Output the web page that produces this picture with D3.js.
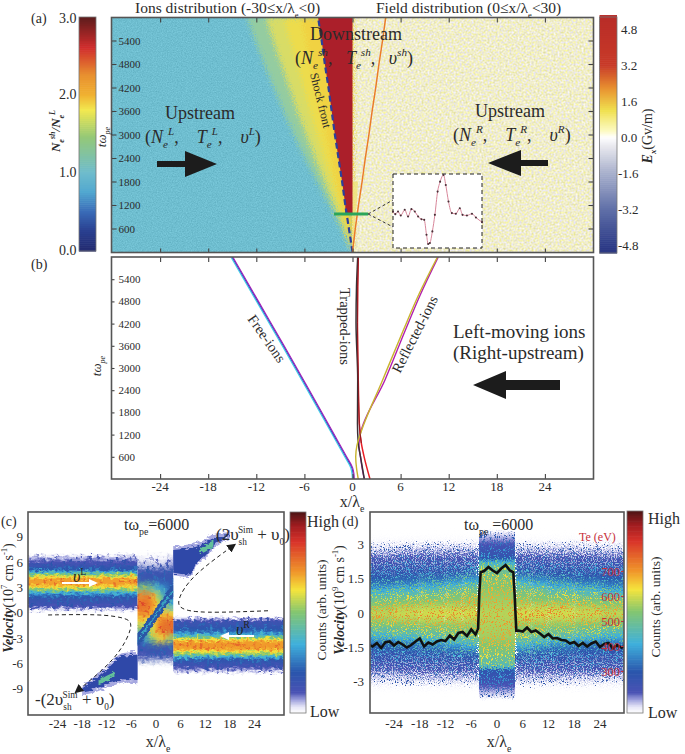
<!DOCTYPE html>
<html>
<head>
<meta charset="utf-8">
<script src="https://cdn.jsdelivr.net/npm/d3@7"></script>
<style>
  html, body { margin: 0; padding: 0; background: #fff; }
  svg { display: block; }
  text { font-family: "Liberation Serif", serif; fill: #2b2b2b; white-space: pre; }
  .tick text { font-family: "Liberation Serif", serif; fill: #2b2b2b; }
</style>
</head>
<body>
<svg width="685" height="754"></svg>
<script>
// Panel (a): time axis and the edges of each region
const times = [0, 600, 1200, 1800, 2400, 3000, 3600, 4200, 4800, 5400, 6000];
const shockFront = [0, -0.45, -0.9, -1.3, -1.75, -2.2, -2.6, -3, -3.45, -3.85, -4.3];
const fanCore = [0, -0.6, -1.3, -2, -2.6, -3.3, -3.9, -4.6, -5.2, -5.8, -6.5];
const fanInner = [0, -0.8, -1.7, -2.6, -3.5, -4.4, -5.3, -6.1, -6.9, -7.8, -8.6];
const fanMid = [0, -1.1, -2.3, -3.5, -4.7, -5.8, -6.9, -7.9, -8.9, -9.9, -10.8];
const fanOuter = [0, -1.4, -2.9, -4.4, -5.9, -7.3, -8.6, -9.8, -11, -12.1, -13.2];
const redTimes = [950, 1200, 1800, 2400, 3000, 3600, 4200, 4800, 5400, 6000];
const orangeLineX = [0, 0.35, 0.75, 1.2, 1.6, 2.05, 2.45, 2.9, 3.3, 3.75, 4.15];
const wedgeTimes = [0, 600, 1200, 1800];
const wedgeX = [0, 0.25, 0.5, 0.7];
const greenBarX = [-2.3, 1.95];
const greenBarT = 970;

// inset of panel (a): Ex along the green bar
const insetX = [-2.3, -2.19, -2.06, -1.93, -1.74, -1.58, -1.42, -1.26, -1.1, -0.94, -0.81, -0.7, -0.62, -0.54, -0.42, -0.3, -0.17, -0.05, 0.11, 0.22, 0.35, 0.51, 0.7, 0.89, 1.02, 1.23, 1.47, 1.66, 1.95];
const insetE = [0.25, 0.05, 0.25, -0.05, 0.38, -0.13, 0.43, 0.25, -0.13, -0.33, -0.38, -1.5, -2.2, -2.13, -1.25, 0, 1.75, 2.5, 3, 2.25, 1, 0.13, 0.08, 0.5, 0, -0.05, 0.08, -0.2, -0.55];

// Panel (b): ion trajectories
const bTimes = [0, 150, 300, 600, 1200, 2400, 3600, 4800, 6000];
const freeIons = [0.1, 0.05, -0.1, -0.85, -2.4, -5.5, -8.65, -11.85, -15.05];
const trappedTimes = [0, 600, 970, 1500, 2676, 4230, 5200, 6000];
const trappedBlack = [1.47, 1.0, 0.72, 0.62, 0.65, 0.44, 0.5, 0.65];
const trappedRed = [2.18, 1.45, 1.1, 0.85, 0.72, 0.62, 0.65, 0.72];
const reflTimes = [0, 300, 600, 900, 1190, 2676, 4000, 5000, 6000];
const reflYellow = [0.72, 0.5, 0.4, 0.55, 0.94, 3.76, 6.3, 8.3, 10.6];
const reflMagenta = [1.47, 1.2, 1.0, 0.8, 0.95, 4.05, 6.55, 8.5, 10.7];

// Panel (c): counts against velocity, one profile per x region
const cLeftV = [7.2, 6.8, 6.3, 5.8, 5.2, 4.9, 4.6, 4.3, 4, 3.5, 3.1, 2.8, 2.5, 2.2, 1.8, 1.2, 0.8, 0.4, 0];
const cLeftC = [0, 0.03, 0.08, 0.13, 0.2, 0.33, 0.5, 0.6, 0.69, 0.69, 0.61, 0.5, 0.36, 0.26, 0.17, 0.14, 0.1, 0.03, 0];
const cRightV = [-0.3, -0.7, -1.1, -1.6, -2.2, -2.6, -2.9, -3.1, -3.4, -3.9, -4.3, -4.6, -4.9, -5.2, -5.6, -6.2, -6.8, -7.3];
const cRightC = [0, 0.06, 0.14, 0.17, 0.24, 0.36, 0.5, 0.6, 0.69, 0.7, 0.67, 0.58, 0.48, 0.3, 0.18, 0.13, 0.05, 0];
const cMidX = [-4.5, -3, -2, -1, 0, 1, 2, 3, 4.2];
const cMidV = [6, 5, 4, 3, 2, 1, 0, -1, -2, -3, -4, -5, -6];
const cMidC = [
  [0.03, 0.03, 0.03, 0.03, 0.03, 0.03, 0.03, 0.05],
  [0.14, 0.14, 0.14, 0.14, 0.14, 0.14, 0.14, 0.15],
  [0.16, 0.17, 0.17, 0.17, 0.17, 0.17, 0.17, 0.17],
  [0.46, 0.46, 0.44, 0.4, 0.34, 0.3, 0.26, 0.22],
  [0.72, 0.74, 0.72, 0.64, 0.54, 0.42, 0.3, 0.24],
  [0.76, 0.76, 0.74, 0.7, 0.62, 0.5, 0.4, 0.34],
  [0.72, 0.72, 0.7, 0.64, 0.6, 0.64, 0.64, 0.62],
  [0.62, 0.6, 0.6, 0.62, 0.7, 0.74, 0.76, 0.76],
  [0.44, 0.44, 0.52, 0.6, 0.72, 0.76, 0.76, 0.76],
  [0.22, 0.3, 0.44, 0.52, 0.6, 0.62, 0.58, 0.52],
  [0.14, 0.15, 0.16, 0.16, 0.17, 0.17, 0.16, 0.16],
  [0.12, 0.13, 0.14, 0.14, 0.14, 0.14, 0.14, 0.12],
  [0.03, 0.03, 0.03, 0.03, 0.03, 0.03, 0.03, 0.03]
];
const diagX = [-4.5, -2, 0, 2, 4.2];
const diagHi = [-2.4, -0.8, 0.6, 2, 3.6];
const diagLo = [-4, -2.3, -0.9, 0.5, 2];
const diagCoreHi = [-3.1, -1.4, 0, 1.4, 2.9];
const diagCoreLo = [-3.4, -1.7, -0.3, 1.1, 2.6];
const wingRX = [4.2, 8, 10, 12, 14, 18];
const wingRHi = [7.5, 7.7, 7.9, 8.4, 8.9, 9.3];
const wingRLo = [4.8, 4.6, 6, 6.8, 8, 9.1];
const wingLX = [-4.5, -8, -10, -12, -14, -18];
const wingLHi = [-4.9, -5, -5.6, -6.6, -7.4, -8.9];
const wingLLo = [-7.9, -7.8, -8.1, -8.4, -8.8, -9.3];
const streakRX = [10.5, 12, 14];
const streakRHi = [7.4, 8, 8.5];
const streakRLo = [7.1, 7.3, 8.1];
const streakLX = [-10, -12, -14];
const streakLHi = [-7, -7.4, -8];
const streakLLo = [-7.3, -8, -8.4];
const dashTopX = [27.3, 10.7, 5.9, 5, 8.3, 18.8];
const dashTopV = [0.3, 0, 0.5, 1.4, 4.3, 8];
const dashBotX = [-26.3, -13.6, -8, -5.6, -6.8, -10.4, -19.2];
const dashBotV = [-0.2, -0.1, -0.5, -1, -2.9, -5.7, -9.2];

// Panel (d): electron counts, upper half of each (symmetric) profile
const dV = [3.6, 3.2, 2.9, 2.5, 2.1, 1.7, 1.3, 1, 0.6, 0.3, 0];
const dColEdges = [30, 24, 18, 12, 8, 4.2];
const dCols = [
  [0, 0.01, 0.03, 0.09, 0.14, 0.18, 0.25, 0.34, 0.45, 0.52, 0.56],
  [0, 0.01, 0.035, 0.1, 0.15, 0.19, 0.27, 0.37, 0.47, 0.54, 0.57],
  [0, 0.01, 0.04, 0.1, 0.15, 0.2, 0.3, 0.4, 0.49, 0.55, 0.58],
  [0, 0.01, 0.04, 0.1, 0.15, 0.22, 0.33, 0.44, 0.5, 0.55, 0.58],
  [0, 0.01, 0.04, 0.1, 0.16, 0.24, 0.37, 0.46, 0.51, 0.55, 0.58]
];
const dMidV = [3.7, 3.3, 2.9, 2.45, 2.3, 2.05, 1.6, 1, 0, -1, -1.7, -2.3, -2.5, -3, -3.4, -3.8];
const dMidC = [0, 0.06, 0.13, 0.17, 0.3, 0.42, 0.47, 0.51, 0.55, 0.53, 0.47, 0.4, 0.18, 0.13, 0.06, 0];
const dHoleV = [3.9, 2.9, 2.4, 1.9, 1.5, -1.5, -1.9, -2.4, -2.9, -3.9];
const dHoleA = [1, 0.95, 0.6, 0.3, 0, 0, 0.3, 0.6, 0.95, 1];
const teX = [-30, -29, -28, -27, -26, -25, -24, -23, -22, -21, -20, -19, -18, -17, -16, -15, -14, -13, -12, -11, -10, -9, -8, -7, -6, -5, -4.4, -4.1, -3.8, -3, -2, -1, 0, 1, 2, 3, 3.8, 4.1, 4.5, 5, 6, 7, 8, 9, 10, 11, 12, 13, 14, 15, 16, 17, 18, 19, 20, 21, 22, 23, 24, 25, 26, 27, 28, 29, 30];
const teVal = [405, 398, 412, 392, 415, 418, 402, 416, 406, 394, 404, 418, 430, 398, 414, 406, 418, 424, 420, 442, 426, 452, 456, 440, 466, 446, 470, 620, 695, 700, 716, 702, 692, 710, 724, 702, 695, 610, 460, 462, 458, 474, 456, 462, 450, 436, 448, 430, 432, 424, 422, 410, 416, 400, 412, 398, 410, 418, 396, 408, 412, 390, 404, 394, 400];

// colour stops
const barN = d3.scaleLinear()
  .domain([0, 0.25, 0.5, 0.75, 1, 1.45, 1.8, 2, 2.25, 2.6, 3])
  .range(['#222a70', '#2a4090', '#3a6cb8', '#52a8d0', '#6fbccc', '#94c878', '#f2e850', '#f0b030', '#e89030', '#d02c2c', '#5a1c1c']);
const barE = d3.scaleLinear()
  .domain([-5.4, -4.8, -3.2, -1.6, -0.4, 0, 0.3, 1.2, 2.2, 3.2, 5.4])
  .range(['#26307a', '#2e3c88', '#6070a8', '#a8b0cc', '#e8e8ee', '#ffffff', '#fcfac0', '#f0e050', '#e89030', '#c83a28', '#b82c28']);
const barCounts = d3.scaleLinear()
  .domain([0, 0.03, 0.06, 0.1, 0.2, 0.34, 0.5, 0.61, 0.7, 0.85, 0.93, 1])
  .range(['#ffffff', '#e4e4f6', '#a6a8e0', '#4a52b4', '#2a55ac', '#3fb0dc', '#84c670', '#f5e43c', '#f0962a', '#d8332a', '#a01c20', '#4a1414']);

const svg = d3.select('svg');
const defs = svg.append('defs');
const serif = '"Liberation Serif", serif';

// ---- filters ----
function grainFilter(id, freq, seed, matrix) {
  const f = defs.append('filter').attr('id', id).attr('x', 0).attr('y', 0).attr('width', 1).attr('height', 1)
    .attr('color-interpolation-filters', 'sRGB');
  f.append('feTurbulence').attr('type', 'fractalNoise').attr('baseFrequency', freq).attr('numOctaves', 2).attr('seed', seed);
  f.append('feColorMatrix').attr('type', 'matrix').attr('values', matrix);
}
grainFilter('paleGrain', 0.5, 4, '0.2 0 0 0 0.84  0.2 0 0 0 0.83  0 0.7 0 0 0.45  0 0 0 0 1');
grainFilter('tealGrain', 0.8, 7, '0.15 0 0 0 0.36  0.15 0 0 0 0.67  0.15 0 0 0 0.74  0 0 0 0 1');

function scatterFilter(id, freq, scale, seed, blur) {
  const f = defs.append('filter').attr('id', id).attr('x', '-5%').attr('y', '-5%').attr('width', '110%').attr('height', '110%')
    .attr('color-interpolation-filters', 'sRGB');
  f.append('feTurbulence').attr('type', 'fractalNoise').attr('baseFrequency', freq).attr('numOctaves', 1).attr('seed', seed).attr('result', 'n');
  f.append('feGaussianBlur').attr('in', 'SourceGraphic').attr('stdDeviation', blur).attr('result', 'b');
  f.append('feDisplacementMap').attr('in', 'b').attr('in2', 'n').attr('scale', scale)
    .attr('xChannelSelector', 'R').attr('yChannelSelector', 'G');
}
scatterFilter('fanScatter', 0.9, 14, 5, 2);
scatterFilter('dScatter', 0.95, 15, 11, 0);

function raggedFilter(id, freq, scale, seed, blur) {
  // only moves pixels up and down, the region edges stay straight
  const f = defs.append('filter').attr('id', id).attr('x', '-5%').attr('y', '-5%').attr('width', '110%').attr('height', '110%')
    .attr('color-interpolation-filters', 'sRGB');
  f.append('feTurbulence').attr('type', 'fractalNoise').attr('baseFrequency', freq).attr('numOctaves', 3).attr('seed', seed).attr('result', 'n0');
  f.append('feColorMatrix').attr('in', 'n0').attr('type', 'matrix')
    .attr('values', '1 0 0 0 0  0 1 0 0 0  0 0 0 0 0.5  0 0 0 0 1').attr('result', 'n');
  f.append('feDisplacementMap').attr('in', 'SourceGraphic').attr('in2', 'n').attr('scale', scale)
    .attr('xChannelSelector', 'B').attr('yChannelSelector', 'R').attr('result', 'd');
  f.append('feGaussianBlur').attr('in', 'd').attr('stdDeviation', blur);
}
raggedFilter('cRagged', '0.2 0.5', 8, 3, 0.55);
raggedFilter('dRagged', '0.9 0.95', 9, 8, 0);

function sparkleFilter(id, freq, k, c, seed) {
  const f = defs.append('filter').attr('id', id).attr('x', 0).attr('y', 0).attr('width', 1).attr('height', 1)
    .attr('color-interpolation-filters', 'sRGB');
  f.append('feTurbulence').attr('type', 'fractalNoise').attr('baseFrequency', freq).attr('numOctaves', 1).attr('seed', seed).attr('result', 'n');
  f.append('feColorMatrix').attr('in', 'n').attr('type', 'matrix')
    .attr('values', `0 0 0 0 0  0 0 0 0 0  0 0 0 0 0  ${k} 0 0 0 ${c}`).attr('result', 'm');
  f.append('feComposite').attr('in', 'SourceGraphic').attr('in2', 'm').attr('operator', 'in');
}
sparkleFilter('dSparkle', 0.85, 14, -7.8, 21);
sparkleFilter('dHoles', 0.9, 12, -6.2, 33);
sparkleFilter('cSparkle', 0.3, 9, -5, 6);

defs.append('filter').attr('id', 'cMidBlur').attr('x', '-10%').attr('y', '-10%').attr('width', '120%').attr('height', '120%')
  .attr('color-interpolation-filters', 'sRGB')
  .append('feGaussianBlur').attr('stdDeviation', '2 3');

function clipFor(id, x0, y0, x1, y1) {
  defs.append('clipPath').attr('id', id).append('rect')
    .attr('x', x0).attr('y', y0).attr('width', x1 - x0).attr('height', y1 - y0);
}

// ---- helpers ----
// styled runs: [text, 'i b sub sup' tokens, optional dx]
function rich(parent, x, y, parts, o = {}) {
  const size = o.size || 14;
  const t = parent.append('text').attr('x', x).attr('y', y).attr('font-size', size)
    .attr('text-anchor', o.anchor || 'start').style('font-family', serif);
  if (o.fill) t.style('fill', o.fill);
  if (o.transform) t.attr('transform', o.transform);
  let shift = 0;
  parts.forEach(p => {
    const s = typeof p === 'string' ? p : p[0];
    const st = typeof p === 'string' ? [] : p[1].split(' ');
    const ts = t.append('tspan').text(s);
    let target = 0;
    if (st.includes('sub')) { target = size * 0.3; ts.attr('font-size', size * (o.script || 0.62)); }
    if (st.includes('sup')) { target = -size * 0.42; ts.attr('font-size', size * (o.script || 0.62)); }
    if (st.includes('i')) ts.style('font-style', 'italic');
    if (st.includes('b')) ts.style('font-weight', 'bold');
    ts.attr('dy', target - shift);
    if (typeof p !== 'string' && p[2]) ts.attr('dx', p[2]);
    shift = target;
  });
  return t;
}

function frame(g, x0, y0, x1, y1) {
  g.append('rect').attr('x', x0).attr('y', y0).attr('width', x1 - x0).attr('height', y1 - y0)
    .attr('fill', 'none').attr('stroke', '#555').attr('stroke-width', 1.6);
}

function styleAxis(sel, size) {
  sel.select('.domain').remove();
  sel.selectAll('.tick line').attr('stroke', '#444').attr('stroke-width', 1.1);
  sel.selectAll('.tick text').attr('font-size', size).style('font-family', serif);
}

function colorBar(g, x0, x1, y, lo, hi, color) {
  const steps = d3.range(lo, hi, (hi - lo) / 120);
  g.selectAll(null).data(steps).join('rect')
    .attr('x', x0).attr('width', x1 - x0)
    .attr('y', d => y(d + (hi - lo) / 120))
    .attr('height', d => Math.abs(y(d) - y(d + (hi - lo) / 120)) + 0.6)
    .attr('fill', color);
  g.append('rect').attr('x', x0).attr('y', y(hi)).attr('width', x1 - x0).attr('height', y(lo) - y(hi))
    .attr('fill', 'none').attr('stroke', '#777').attr('stroke-width', 0.8);
}

// vertical gradient strip from a velocity profile
let stripId = 0;
function strip(g, x0, x1, vels, vals, xs, ys, boost = 0, fade = 0.04) {
  const id = 'strip' + (stripId++);
  const grad = defs.append('linearGradient').attr('id', id).attr('gradientUnits', 'userSpaceOnUse')
    .attr('x1', 0).attr('x2', 0).attr('y1', ys(vels[0])).attr('y2', ys(vels[vels.length - 1]));
  const total = ys(vels[vels.length - 1]) - ys(vels[0]);
  vels.forEach((v, i) => {
    const sub = i < vels.length - 1 ? 4 : 1;
    d3.range(sub).forEach(k => {
      const w = k / sub;
      const val = i < vels.length - 1 ? vals[i] + (vals[i + 1] - vals[i]) * w : vals[i];
      const pos = i < vels.length - 1 ? ys(v) + (ys(vels[i + 1]) - ys(v)) * w : ys(v);
      grad.append('stop').attr('offset', (pos - ys(vels[0])) / total)
        .attr('stop-color', barCounts(Math.min(1, val > 0.02 ? val + boost : val)))
        .attr('stop-opacity', Math.min(1, val / fade));
    });
  });
  g.append('rect').attr('x', xs(x0)).attr('width', xs(x1) - xs(x0))
    .attr('y', ys(vels[0])).attr('height', total).attr('fill', `url(#${id})`);
}

function arrow(g, tipX, baseX, endX, cy, halfHead, halfShaft, fill) {
  g.append('path').attr('fill', fill)
    .attr('d', `M${tipX},${cy} L${baseX},${cy - halfHead} L${baseX},${cy - halfShaft} L${endX},${cy - halfShaft} L${endX},${cy + halfShaft} L${baseX},${cy + halfShaft} L${baseX},${cy + halfHead} Z`);
}

// ==== Panel (a) ====
const ax = { left: 111.5, right: 593.5, top: 17.5, bottom: 252.5 };
const xA = d3.scaleLinear().domain([-30, 30]).range([112, 593]);
const tA = d3.scaleLinear().domain([0, 6000]).range([252, 17]);
clipFor('clipA', ax.left, ax.top, ax.right, ax.bottom);
const gA = svg.append('g').attr('clip-path', 'url(#clipA)');

gA.append('rect').attr('x', ax.left).attr('y', ax.top).attr('width', xA(0) - ax.left + 1).attr('height', ax.bottom - ax.top)
  .attr('filter', 'url(#tealGrain)');
gA.append('rect').attr('x', xA(0)).attr('y', ax.top).attr('width', ax.right - xA(0)).attr('height', ax.bottom - ax.top)
  .attr('filter', 'url(#paleGrain)');

const fanG = gA.append('g').attr('filter', 'url(#fanScatter)');
const fanArea = (outer, color, inner) => {
  const a = d3.area().x0((d, i) => xA(outer[i])).x1((d, i) => xA(inner ? inner[i] : 0)).y(d => tA(d));
  fanG.append('path').attr('d', a(times)).attr('fill', color);
};
fanArea(fanOuter, '#94cca0');
fanArea(fanMid, '#d8dc66');
fanArea(fanInner, '#eddc4c');
fanArea(fanCore, '#f0d242');

// wedge between x=0 and the orange line
gA.append('path').attr('fill', '#efe27a').attr('opacity', 0.8)
  .attr('d', d3.area().x0(xA(0)).x1((d, i) => xA(wedgeX[i])).y(d => tA(d))(wedgeTimes));

// downstream (red) region
const redEdge = t => shockFront[times.findIndex(v => v >= t)];
gA.append('path').attr('fill', '#ab1f2a')
  .attr('d', d3.area().x0(d => xA(redEdge(d))).x1(xA(0)).y(d => tA(d))(redTimes));

// shock-front and orange tracks
gA.append('path').attr('fill', 'none').attr('stroke', '#2c3f9c').attr('stroke-width', 2.2).attr('stroke-dasharray', '6 3.5')
  .attr('d', d3.line().x((d, i) => xA(shockFront[i])).y(d => tA(d))(times));
gA.append('path').attr('fill', 'none').attr('stroke', '#ea7b2a').attr('stroke-width', 1.5)
  .attr('d', d3.line().x((d, i) => xA(orangeLineX[i])).y(d => tA(d))(times));

// green sampling bar and the dashed leaders to the inset
gA.append('line').attr('x1', xA(greenBarX[0])).attr('x2', xA(greenBarX[1])).attr('y1', tA(greenBarT)).attr('y2', tA(greenBarT))
  .attr('stroke', '#2aa55a').attr('stroke-width', 3.2);
[200, 227].forEach(y => gA.append('line').attr('x1', xA(greenBarX[1])).attr('x2', 393).attr('y1', tA(greenBarT)).attr('y2', y)
  .attr('stroke', '#222').attr('stroke-width', 0.9).attr('stroke-dasharray', '3 2.5'));

// inset
const xIn = d3.scaleLinear().domain([-2.3, 1.95]).range([393, 482]);
const yIn = d3.scaleLinear().domain([-2.5, 3.1]).range([248, 173.7]);
gA.append('rect').attr('x', 393).attr('y', 174).attr('width', 89).attr('height', 74).attr('fill', '#fff')
  .attr('stroke', '#222').attr('stroke-width', 1).attr('stroke-dasharray', '4 3');
gA.append('path').attr('fill', 'none').attr('stroke', '#d8869a').attr('stroke-width', 1)
  .attr('d', d3.line().curve(d3.curveMonotoneX).x(d => xIn(d)).y((d, i) => yIn(insetE[i]))(insetX));
gA.append('g').selectAll('circle').data(insetX).join('circle')
  .attr('cx', d => xIn(d)).attr('cy', (d, i) => yIn(insetE[i])).attr('r', 1.05).attr('fill', '#4a3038');

// axes of (a)
const tTicks = [600, 1200, 1800, 2400, 3000, 3600, 4200, 4800, 5400];
const xTicks = [-24, -18, -12, -6, 0, 6, 12, 18, 24];
svg.append('g').attr('transform', `translate(${ax.left},0)`)
  .call(d3.axisRight(tA).tickValues(tTicks).tickSize(5).tickPadding(2).tickFormat(d => d)).call(styleAxis, 11);
svg.append('g').attr('transform', `translate(${ax.right},0)`)
  .call(d3.axisLeft(tA).tickValues(tTicks).tickSize(5).tickFormat('')).call(styleAxis, 11);
svg.append('g').attr('transform', `translate(0,${ax.top})`)
  .call(d3.axisBottom(xA).tickValues(xTicks).tickSize(5).tickFormat('')).call(styleAxis, 11);
svg.append('g').attr('transform', `translate(0,${ax.bottom})`)
  .call(d3.axisTop(xA).tickValues(xTicks).tickSize(4).tickFormat('')).call(styleAxis, 11);
frame(svg, ax.left, ax.top, ax.right, ax.bottom);

// colour bars of (a)
const yBarN = d3.scaleLinear().domain([0, 3]).range([251, 17]);
colorBar(svg.append('g'), 79, 96, yBarN, 0, 3, barN);
[0, 1, 2, 3].forEach(v => svg.append('text').attr('x', 59).attr('y', yBarN(v) + 4 + (v === 3 ? 2 : 0))
  .attr('font-size', 14).text(v.toFixed(1)));
const yBarE = d3.scaleLinear().domain([-5.12, 5.38]).range([253, 17]);
colorBar(svg.append('g'), 599.5, 617, yBarE, -5.12, 5.38, barE);
[-4.8, -3.2, -1.6, 0, 1.6, 3.2, 4.8].forEach(v => svg.append('text').attr('x', v < 0 ? 618 : 621)
  .attr('y', yBarE(v) + 4).attr('font-size', 13).text(v.toFixed(1)));

// text of (a)
svg.append('text').attr('x', 31).attr('y', 23).attr('font-size', 14).text('(a)');
rich(svg, 135, 13, ['Ions distribution (-30≤x/λ', ['e', 'sub'], '<0)'], { size: 15.5, script: 0.55 });
rich(svg, 376, 13, ['Field distribution (0≤x/λ', ['e', 'sub'], '<30)'], { size: 15.5, script: 0.55 });
rich(svg, 60, 131, [['N', 'i b'], ['e', 'i b sub'], ['sh', 'i b sup'], ['/N', 'i b'], ['e', 'i b sub'], ['L', 'i b sup']],
  { size: 13, anchor: 'middle', transform: 'rotate(-90 60 131)' });
rich(svg, 106, 137, [['t', 'i'], ['ω', 'i'], ['pe', 'i sub']], { size: 13, anchor: 'middle', transform: 'rotate(-90 106 137)' });
rich(svg, 652, 136, [['E', 'i b'], ['x', 'i b sub'], '(Gv/m)'], { size: 14, anchor: 'middle', transform: 'rotate(-90 652 136)' });

const stateLine = (g, x, y, letter, size, gap) => rich(g, x, y, [
  '(', ['N', 'i'], ['e', 'i sub'], [letter, 'i sup'], ',' + gap, ['T', 'i'], ['e', 'i sub'], [letter, 'i sup'], ',' + gap, ['υ', 'i'], [letter, 'i sup'], ')'
], { size });
svg.append('text').attr('x', 165).attr('y', 119).attr('font-size', 18).text('Upstream');
stateLine(svg, 145, 143, 'L', 18, '    ');
svg.append('text').attr('x', 475).attr('y', 117).attr('font-size', 18).text('Upstream');
stateLine(svg, 453, 141, 'R', 18, '    ');
svg.append('text').attr('x', 310).attr('y', 40).attr('font-size', 18).text('Downstream');
stateLine(svg, 295, 64, 'sh', 18, '   ');
svg.append('text').attr('font-size', 12).attr('transform', 'translate(310,74) rotate(76)').text('Shock front');
arrow(svg, 217, 185, 157, 164, 13, 3, '#1c1c1c');
arrow(svg, 488, 521, 548, 163, 13, 3, '#1c1c1c');

// ==== Panel (b) ====
const bx = { left: 111.5, right: 593.5, top: 257, bottom: 479 };
const tB = d3.scaleLinear().domain([0, 6000]).range([479, 257]);
clipFor('clipB', bx.left, bx.top, bx.right, bx.bottom);
const gB = svg.append('g').attr('clip-path', 'url(#clipB)');
const track = (ts, xs, color, w, dx = 0) => gB.append('path').attr('fill', 'none').attr('stroke', color).attr('stroke-width', w)
  .attr('d', d3.line().curve(d3.curveMonotoneY).x((d, i) => xA(xs[i]) + dx).y(d => tB(d))(ts));
track(bTimes, freeIons, '#45d4e8', 1.1, -1);
track(bTimes, freeIons, '#2f55c8', 1.2, 0.2);
track(bTimes, freeIons, '#a322b8', 1.1, 1);
track(reflTimes, reflMagenta, '#b320b0', 1.4);
track(trappedTimes, trappedRed, '#e81d25', 1.5);
track(trappedTimes, trappedBlack, '#3a3035', 1.5);
track(reflTimes, reflYellow, '#c8b42e', 1.4);
track(trappedTimes.slice(2), trappedRed.slice(2), '#8e1a20', 1);

svg.append('g').attr('transform', `translate(${bx.left},0)`)
  .call(d3.axisRight(tB).tickValues(tTicks).tickSize(3).tickPadding(4).tickFormat(d => d)).call(styleAxis, 11);
svg.append('g').attr('transform', `translate(0,${bx.top})`)
  .call(d3.axisBottom(xA).tickValues(xTicks).tickSize(5).tickFormat('')).call(styleAxis, 11);
svg.append('g').attr('transform', `translate(0,${bx.bottom})`)
  .call(d3.axisTop(xA).tickValues(xTicks).tickSize(5).tickFormat('')).call(styleAxis, 11);
frame(svg, bx.left, bx.top, bx.right, bx.bottom);
xTicks.forEach(v => svg.append('text').attr('x', xA(v)).attr('y', 491).attr('text-anchor', 'middle').attr('font-size', 13).text(v));
rich(svg, 352, 507, ['x/λ', ['e', 'sub']], { size: 16, anchor: 'middle' });

svg.append('text').attr('x', 31).attr('y', 269).attr('font-size', 14).text('(b)');
rich(svg, 101, 366, [['t', 'i'], ['ω', 'i'], ['pe', 'i sub']], { size: 13, anchor: 'middle', transform: 'rotate(-90 101 366)' });
svg.append('text').attr('font-size', 14.5).attr('transform', 'translate(247,319) rotate(55)').text('Free-ions');
svg.append('text').attr('font-size', 14.5).attr('transform', 'translate(340,288) rotate(90)').text('Trapped-ions');
svg.append('text').attr('font-size', 14.5).attr('transform', 'translate(400,374) rotate(-63)').text('Reflected-ions');
svg.append('text').attr('x', 453).attr('y', 338).attr('font-size', 19).text('Left-moving ions');
svg.append('text').attr('x', 453).attr('y', 359).attr('font-size', 19).text('(Right-upstream)');
arrow(svg, 473, 506, 560, 385, 14, 5, '#1c1c1c');

// ==== Panel (c) ====
const cx = { left: 28, right: 284, top: 512, bottom: 715 };
const xC = d3.scaleLinear().domain([-31.2, 31.2]).range([28, 284]);
const yC = d3.scaleLinear().domain([-12.05, 12]).range([715, 512]);
clipFor('clipC', cx.left, cx.top, cx.right, cx.bottom);
clipFor('clipCMid', xC(-4.5), cx.top, xC(4.2), cx.bottom);
const gC = svg.append('g').attr('clip-path', 'url(#clipC)');

function drawC(g, boost) {
  strip(g, -31.2, -4.5, cLeftV, cLeftC, xC, yC, boost);
  strip(g, 4.2, 31.2, cRightV, cRightC, xC, yC, boost);
  const mid = g.append('g').attr('clip-path', 'url(#clipCMid)').append('g').attr('filter', 'url(#cMidBlur)');
  cMidV.slice(0, -1).forEach((v, r) => {
    cMidX.slice(0, -1).forEach((x, c) => {
      // outer columns run past the clip so the blur does not fade at the edges
      const x0 = c === 0 ? x - 3 : x;
      const x1 = c === cMidX.length - 2 ? cMidX[c + 1] + 3 : cMidX[c + 1];
      mid.append('rect').attr('x', xC(x0) - 0.2).attr('width', xC(x1) - xC(x0) + 0.4)
        .attr('y', yC(v + 0.5)).attr('height', yC(v - 0.5) - yC(v + 0.5) + 0.4)
        .attr('fill', barCounts(Math.min(1, cMidC[r][c] + boost)));
    });
  });
}
const raggedC = gC.append('g').attr('filter', 'url(#cRagged)');
drawC(raggedC, 0);
const hotC = gC.append('g').attr('filter', 'url(#cRagged)').append('g').attr('filter', 'url(#cSparkle)');
drawC(hotC, 0.07);
const overC = gC.append('g').attr('filter', 'url(#cRagged)');
const wing = (xs, hi, lo, color) => overC.append('path').attr('fill', color)
  .attr('d', d3.area().x((d, i) => xC(d)).y0((d, i) => yC(lo[i])).y1((d, i) => yC(hi[i])).curve(d3.curveMonotoneX)(xs));
wing(wingRX, wingRHi.map(d => d + 0.45), wingRLo.map(d => d - 0.3), '#a6a8e0');
wing(wingLX, wingLHi.map(d => d + 0.3), wingLLo.map(d => d - 0.4), '#a6a8e0');
wing(wingRX, wingRHi, wingRLo, '#2f48a8');
wing(wingLX, wingLHi, wingLLo, '#2f48a8');
wing(streakRX, streakRHi, streakRLo, '#63c09a');
wing(streakLX, streakLHi, streakLLo, '#63c09a');
wing(diagX, diagHi, diagLo, '#2a56a6');
wing(diagX, diagCoreHi, diagCoreLo, '#3aa6c4');

const dashLine = d3.line().curve(d3.curveBasis);
defs.append('marker').attr('id', 'dashHead').attr('viewBox', '0 0 10 10').attr('refX', 6).attr('refY', 5)
  .attr('markerWidth', 9).attr('markerHeight', 9).attr('orient', 'auto-start-reverse').attr('markerUnits', 'userSpaceOnUse')
  .append('path').attr('d', 'M0,0 L10,5 L0,10 Z').attr('fill', '#1c1c1c');
[[dashTopX, dashTopV], [dashBotX, dashBotV]].forEach(([xs, vs]) => gC.append('path').attr('fill', 'none')
  .attr('stroke', '#222').attr('stroke-width', 1).attr('stroke-dasharray', '4 3').attr('marker-end', 'url(#dashHead)')
  .attr('d', dashLine(xs.map((d, i) => [xC(d), yC(vs[i])]))));

const cArrow = (x0, x1, y) => {
  arrow(gC, x1, x1 + (x1 > x0 ? -9 : 9), x0, y, 4, 1, '#fff');
};
cArrow(62, 98, 583);
cArrow(254, 220, 636);
rich(gC, 73, 582, [['υ', 'i'], ['L', 'sup']], { size: 16, fill: '#222' });
rich(gC, 236, 635, [['υ', 'i'], ['R', 'sup']], { size: 16, fill: '#222' });

frame(svg, cx.left, cx.top, cx.right, cx.bottom);
[-24, -18, -12, -6, 0, 6, 12, 18, 24].forEach(v => svg.append('text').attr('x', xC(v)).attr('y', 728).attr('text-anchor', 'middle').attr('font-size', 13).text(v));
[-9, -6, -3, 0, 3, 6, 9].forEach(v => svg.append('text').attr('x', 23).attr('y', yC(v) + 4).attr('text-anchor', 'end').attr('font-size', 13).text(v));
svg.append('text').attr('x', 1).attr('y', 526).attr('font-size', 14).text('(c)');
rich(svg, 124, 530, ['tω', ['pe', 'sub'], '=6000'], { size: 16 });
rich(svg, 158, 747, ['x/λ', ['e', 'sub']], { size: 16, anchor: 'middle' });
rich(svg, 13, 598, [['Velocity', 'i b'], '(10', ['7', 'sup'], ' cm s', ['-1', 'sup'], ')'], { size: 14, anchor: 'middle', transform: 'rotate(-90 13 598)' });
rich(svg, 216, 540, ['(2υ', ['sh', 'sub'], ['Sim', 'sup', -9], ' + υ', ['0', 'sub'], ')'], { size: 17, script: 0.55 });
rich(svg, 35, 705, ['-(2υ', ['sh', 'sub'], ['Sim', 'sup', -9], ' + υ', ['0', 'sub'], ')'], { size: 17, script: 0.55 });

const yBarC = d3.scaleLinear().domain([0, 1]).range([713, 512]);
colorBar(svg.append('g'), 290, 306, yBarC, 0, 1, barCounts);
svg.append('text').attr('x', 307).attr('y', 527).attr('font-size', 16).text('High');
svg.append('text').attr('x', 310).attr('y', 717).attr('font-size', 16).text('Low');
svg.append('text').attr('font-size', 13.5).attr('text-anchor', 'middle').attr('transform', 'translate(326,610) rotate(-90)').text('Counts (arb. units)');

// ==== Panel (d) ====
const dx = { left: 370, right: 624, top: 512, bottom: 713 };
const xD = d3.scaleLinear().domain([-29.6, 29.6]).range([370, 624]);
const yDm = d3.scaleLinear().domain([0, 1.5]).range([613.5, 579.2]);
clipFor('clipD', dx.left, dx.top, dx.right, dx.bottom);
const gD = svg.append('g').attr('clip-path', 'url(#clipD)');
const mirrorV = dV.concat(dV.slice(0, -1).reverse().map(d => -d));

function drawOuterD(outer, boost) {
  dCols.forEach((col, i) => {
    const vals = col.concat(col.slice(0, -1).reverse());
    const edge0 = dColEdges[i], edge1 = dColEdges[i + 1];
    strip(outer, -edge0 - (i === 0 ? 1 : 0), -edge1, mirrorV, vals, xD, yDm, boost, 0.02);
    strip(outer, edge1, edge0 + (i === 0 ? 1 : 0), mirrorV, vals, xD, yDm, boost, 0.02);
  });
}
const scatterD = gD.append('g').attr('filter', 'url(#dScatter)');
drawOuterD(scatterD, 0);
drawOuterD(gD.append('g').attr('filter', 'url(#dScatter)').append('g').attr('filter', 'url(#dSparkle)'), 0.16);

// white specks thinning out the blue wings of the distribution
const holeGrad = defs.append('linearGradient').attr('id', 'holeGrad').attr('gradientUnits', 'userSpaceOnUse')
  .attr('x1', 0).attr('x2', 0).attr('y1', yDm(dHoleV[0])).attr('y2', yDm(dHoleV[dHoleV.length - 1]));
dHoleV.forEach((v, i) => holeGrad.append('stop')
  .attr('offset', (yDm(v) - yDm(dHoleV[0])) / (yDm(dHoleV[dHoleV.length - 1]) - yDm(dHoleV[0])))
  .attr('stop-color', '#fff').attr('stop-opacity', dHoleA[i]));
gD.append('rect').attr('x', dx.left).attr('width', dx.right - dx.left)
  .attr('y', yDm(dHoleV[0])).attr('height', yDm(dHoleV[dHoleV.length - 1]) - yDm(dHoleV[0]))
  .attr('fill', 'url(#holeGrad)').attr('filter', 'url(#dHoles)');

// middle block sits on top so its speckle stays dense
strip(gD.append('g').attr('filter', 'url(#dRagged)'), -4.2, 4.2, dMidV, dMidC, xD, yDm, 0, 0.02);
strip(gD.append('g').attr('filter', 'url(#dRagged)').append('g').attr('filter', 'url(#dSparkle)'), -4.2, 4.2, dMidV, dMidC, xD, yDm, 0.16, 0.02);

// electron temperature curve, on its own red axis
const yTe = d3.scaleLinear().domain([300, 700]).range([671, 571]);
gD.append('path').attr('fill', 'none').attr('stroke', '#111').attr('stroke-width', 2.6)
  .attr('d', d3.line().x(d => xD(d)).y((d, i) => yTe(teVal[i]))(teX));
const teAxis = svg.append('g').attr('transform', `translate(${dx.right},0)`)
  .call(d3.axisLeft(yTe).tickValues([300, 400, 500, 600, 700]).tickSize(3).tickPadding(1));
styleAxis(teAxis, 12.5);
teAxis.selectAll('.tick line').attr('stroke', '#c8303a');
teAxis.selectAll('.tick text').style('fill', '#c8303a');
svg.append('text').attr('x', 579).attr('y', 541).attr('font-size', 12).style('fill', '#c8303a').text('Te (eV)');

frame(svg, dx.left, dx.top, dx.right, dx.bottom);
[-24, -18, -12, -6, 0, 6, 12, 18, 24].forEach(v => svg.append('text').attr('x', xD(v)).attr('y', 728).attr('text-anchor', 'middle').attr('font-size', 13).text(v));
[-3, -1.5, 0, 1.5, 3].forEach(v => svg.append('text').attr('x', 364).attr('y', yDm(v) + 4).attr('text-anchor', 'end').attr('font-size', 13).text(v));
svg.append('text').attr('x', 342).attr('y', 526).attr('font-size', 14).text('(d)');
rich(svg, 464, 530, ['tω', ['pe', 'sub'], ' =6000'], { size: 16 });
rich(svg, 499, 747, ['x/λ', ['e', 'sub']], { size: 16, anchor: 'middle' });
rich(svg, 344, 600, [['Velocity', 'i b'], '(10', ['9', 'sup'], ' cm s', ['-1', 'sup'], ')'], { size: 14, anchor: 'middle', transform: 'rotate(-90 344 600)' });

const yBarD = d3.scaleLinear().domain([0, 1]).range([713, 511]);
colorBar(svg.append('g'), 627, 643, yBarD, 0, 1, barCounts);
svg.append('text').attr('x', 648).attr('y', 524).attr('font-size', 16).text('High');
svg.append('text').attr('x', 648).attr('y', 718).attr('font-size', 16).text('Low');
svg.append('text').attr('font-size', 13.5).attr('text-anchor', 'middle').attr('transform', 'translate(660,607) rotate(-90)').text('Counts (arb. units)');
</script>
</body>
</html>
